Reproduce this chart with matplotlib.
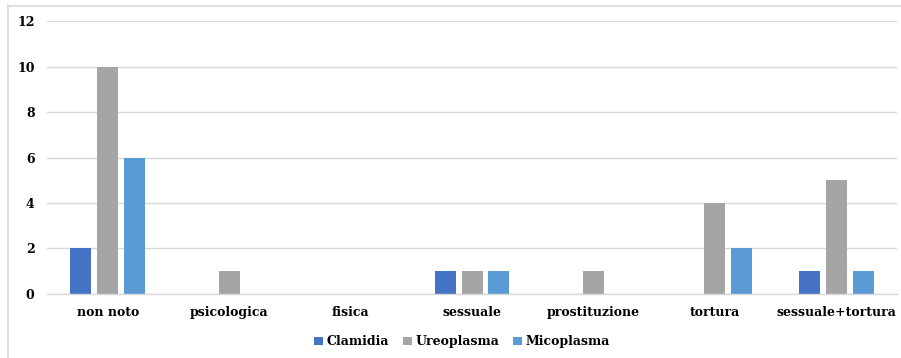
import matplotlib.pyplot as plt
import numpy as np
from matplotlib.lines import Line2D

categories = ['non noto', 'psicologica', 'fisica', 'sessuale',
              'prostituzione', 'tortura', 'sessuale+tortura']
clamidia = [2, 0, 0, 1, 0, 0, 1]
ureoplasma = [10, 1, 0, 1, 1, 4, 5]
micoplasma = [6, 0, 0, 1, 0, 2, 1]
series_names = ['Clamidia', 'Ureoplasma', 'Micoplasma']
colors = ['#4472C4', '#A5A5A5', '#5B9BD5']

plt.rcParams['font.family'] = ['DejaVu Serif']
plt.rcParams['font.weight'] = 'bold'

fig = plt.figure(figsize=(9.01, 3.58), dpi=100)
ax = fig.add_axes([0.0522, 0.1788, 0.9434, 0.7625])

x = np.arange(len(categories))
step = 0.222
width = 0.173
for i, (vals, name, col) in enumerate(zip([clamidia, ureoplasma, micoplasma], series_names, colors)):
    ax.bar(x + (i - 1) * step, vals, width, color=col, label=name, zorder=3)

ax.set_xlim(-0.5, len(categories) - 0.5)
ax.set_ylim(0, 12)
ax.set_yticks(range(0, 13, 2))
ax.set_xticks(x)
ax.set_xticklabels(categories, fontsize=9, fontweight='bold')
ax.tick_params(axis='y', labelsize=9, length=0, pad=9)
ax.tick_params(axis='x', length=0, pad=9)
ax.grid(axis='y', color='#D9D9D9', linewidth=1, zorder=0)
for s in ['top', 'right', 'left']:
    ax.spines[s].set_visible(False)
ax.spines['bottom'].set_color('#D9D9D9')
ax.spines['bottom'].set_linewidth(1)
ax.spines['bottom'].set_zorder(4)

leg = fig.legend(loc='center', bbox_to_anchor=(0.513, 0.045), ncol=3, frameon=False,
                 fontsize=9, handlelength=0.7, handleheight=0.7, handletextpad=0.3,
                 columnspacing=1.1)

# chart border (left and top visible in reference)
fig.add_artist(Line2D([8 / 901, 8 / 901], [0, 1 - 6 / 358], color='#D9D9D9', lw=1.2))
fig.add_artist(Line2D([8 / 901, 1], [1 - 6 / 358, 1 - 6 / 358], color='#D9D9D9', lw=1.2))

fig.savefig('out.png', dpi=100)
